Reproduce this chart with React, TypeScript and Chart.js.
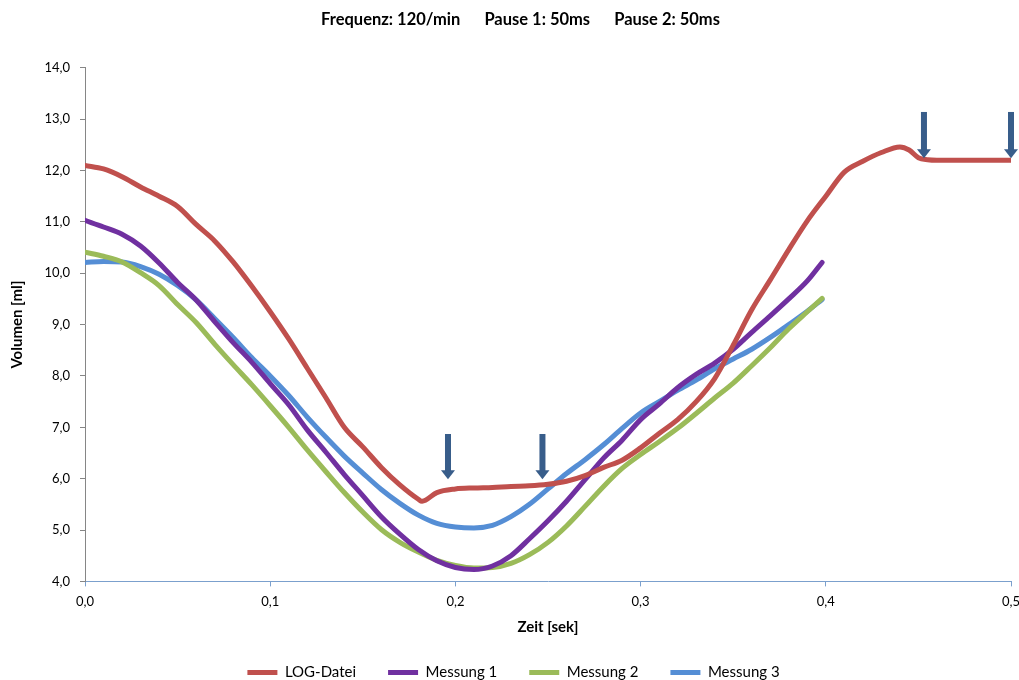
import React, { useEffect, useRef } from "react";
import { Chart, registerables } from "chart.js";

Chart.register(...registerables);

const TITLE = "Frequenz: 120/min      Pause 1: 50ms      Pause 2: 50ms";
const X_TITLE = "Zeit [sek]";
const Y_TITLE = "Volumen [ml]";
const SERIES_NAMES = ["LOG-Datei", "Messung 1", "Messung 2", "Messung 3"];
const SERIES_COLORS = ["#C0504D", "#7030A0", "#9BBB59", "#558ED5"];

const logT = [0, 0.01, 0.02, 0.03, 0.04, 0.05, 0.06, 0.07, 0.08, 0.09, 0.1, 0.11, 0.12, 0.13, 0.14, 0.15, 0.16, 0.17, 0.18, 0.182, 0.19, 0.2, 0.21, 0.22, 0.23, 0.24, 0.25, 0.26, 0.27, 0.28, 0.29, 0.3, 0.31, 0.32, 0.33, 0.34, 0.35, 0.36, 0.37, 0.38, 0.39, 0.4, 0.41, 0.42, 0.43, 0.44, 0.445, 0.45, 0.455, 0.46, 0.5];
const logV = [12.1, 12.03, 11.88, 11.68, 11.5, 11.3, 10.95, 10.63, 10.22, 9.75, 9.25, 8.72, 8.15, 7.58, 7.0, 6.62, 6.22, 5.88, 5.6, 5.56, 5.73, 5.8, 5.82, 5.83, 5.85, 5.86, 5.89, 5.95, 6.06, 6.22, 6.36, 6.6, 6.88, 7.15, 7.5, 7.95, 8.6, 9.29, 9.87, 10.46, 11.02, 11.5, 11.97, 12.18, 12.35, 12.46, 12.4, 12.25, 12.21, 12.2, 12.2];

const measT = [0, 0.01, 0.02, 0.03, 0.04, 0.05, 0.06, 0.07, 0.08, 0.09, 0.1, 0.11, 0.12, 0.13, 0.14, 0.15, 0.16, 0.17, 0.18, 0.19, 0.2, 0.21, 0.22, 0.23, 0.24, 0.25, 0.26, 0.27, 0.28, 0.29, 0.3, 0.31, 0.32, 0.33, 0.34, 0.35, 0.36, 0.37, 0.38, 0.39, 0.398];
const m1V = [11.03, 10.9, 10.76, 10.53, 10.2, 9.82, 9.48, 9.06, 8.65, 8.27, 7.85, 7.44, 6.95, 6.52, 6.08, 5.67, 5.26, 4.92, 4.62, 4.4, 4.27, 4.23, 4.3, 4.5, 4.83, 5.18, 5.56, 5.98, 6.4, 6.75, 7.15, 7.45, 7.77, 8.03, 8.25, 8.52, 8.85, 9.17, 9.5, 9.85, 10.21];
const m2V = [10.41, 10.33, 10.22, 10.01, 9.76, 9.39, 9.04, 8.62, 8.22, 7.83, 7.42, 7.0, 6.56, 6.14, 5.73, 5.35, 5.01, 4.76, 4.57, 4.41, 4.31, 4.26, 4.27, 4.35, 4.52, 4.76, 5.08, 5.46, 5.85, 6.2, 6.47, 6.72, 6.98, 7.27, 7.57, 7.86, 8.2, 8.55, 8.92, 9.25, 9.51];
const m3V = [10.21, 10.23, 10.22, 10.13, 9.98, 9.76, 9.48, 9.12, 8.75, 8.36, 8.0, 7.62, 7.2, 6.81, 6.44, 6.11, 5.79, 5.52, 5.29, 5.13, 5.06, 5.04, 5.09, 5.26, 5.5, 5.8, 6.1, 6.37, 6.66, 6.98, 7.28, 7.5, 7.72, 7.92, 8.14, 8.33, 8.52, 8.75, 9.0, 9.26, 9.49];

// Arrow markers (x position, start value, tip value)
const arrowX = [0.196, 0.247, 0.453, 0.5];
const arrowFrom = [6.87, 6.87, 13.14, 13.14];
const arrowTo = [5.99, 5.99, 12.24, 12.24];
const ARROW_COLOR = "#385D8A";

const FONT = "Lato, 'Open Sans', sans-serif";

const fmt = (v: number) => v.toFixed(1).replace(".", ",");

const arrowPlugin = {
  id: "arrows",
  afterDatasetsDraw(chart: any) {
    const { ctx, scales } = chart;
    const xs = scales.x;
    const ys = scales.y;
    ctx.save();
    ctx.fillStyle = ARROW_COLOR;
    for (let i = 0; i < arrowX.length; i++) {
      const px = xs.getPixelForValue(arrowX[i]);
      const top = ys.getPixelForValue(arrowFrom[i]);
      const tip = ys.getPixelForValue(arrowTo[i]);
      const headH = 9;
      const shaftW = 6;
      const headW = 14;
      ctx.fillRect(px - shaftW / 2, top, shaftW, tip - top - headH + 1);
      ctx.beginPath();
      ctx.moveTo(px - headW / 2, tip - headH);
      ctx.lineTo(px + headW / 2, tip - headH);
      ctx.lineTo(px, tip);
      ctx.closePath();
      ctx.fill();
    }
    ctx.restore();
  },
};

const shiftPlugin = {
  id: "boxShift",
  afterLayout(chart: any) {
    const lg = chart.legend;
    if (lg) {
      lg.left += 8;
      lg.right += 8;
    }
    const tt = chart.titleBlock;
    if (tt) {
      tt.left += 15;
      tt.right += 15;
    }
  },
};

export default function App() {
  const ref = useRef<HTMLCanvasElement | null>(null);

  useEffect(() => {
    document.body.style.margin = "0";
    const canvas = ref.current;
    if (!canvas) return;
    const seriesT = [logT, measT, measT, measT];
    const seriesV = [logV, m1V, m2V, m3V];
    const datasets = SERIES_NAMES.map((name, k) => ({
      label: name,
      data: seriesT[k].map((x, i) => ({ x, y: seriesV[k][i] })),
      borderColor: SERIES_COLORS[k],
      backgroundColor: SERIES_COLORS[k],
      borderWidth: 5,
      borderCapStyle: "round" as const,
      borderJoinStyle: "round" as const,
      pointRadius: 0,
      pointHoverRadius: 0,
      cubicInterpolationMode: "monotone" as const,
      fill: false,
    }));

    const chart = new Chart(canvas, {
      type: "line",
      data: { datasets },
      plugins: [arrowPlugin, shiftPlugin],
      options: {
        responsive: false,
        animation: false,
        layout: { autoPadding: false, padding: { left: 0, right: 8, top: 0, bottom: -10 } },
        plugins: {
          title: {
            display: true,
            text: TITLE,
            color: "#000",
            font: { family: FONT, size: 16.5, weight: "bold" },
            padding: { top: 10, bottom: 38 },
          },
          legend: {
            display: true,
            position: "bottom",
            labels: {
              color: "#000",
              font: { family: FONT, size: 15 },
              usePointStyle: true,
              pointStyle: "line",
              pointStyleWidth: 30,
              boxHeight: 5,
              padding: 32,
            },
          },
          tooltip: { enabled: false },
        },
        scales: {
          x: {
            type: "linear",
            min: 0,
            max: 0.5,
            ticks: {
              stepSize: 0.1,
              color: "#000",
              font: { family: FONT, size: 13 },
              padding: 8,
              maxRotation: 0,
              callback: (v: any) => fmt(Number(v)),
            },
            grid: { display: true, drawOnChartArea: false, drawTicks: true, tickLength: 5, color: "#7BA0CD" },
            border: { display: true, color: "#7BA0CD", width: 1 },
            title: {
              display: true,
              text: X_TITLE,
              color: "#000",
              font: { family: FONT, size: 15, weight: "bold" },
              padding: { top: 0, bottom: -3 },
            },
            afterFit: (scale: any) => {
              scale.paddingRight = 0;
              scale.paddingLeft = 0;
            },
          },
          y: {
            type: "linear",
            min: 4,
            max: 14,
            ticks: {
              stepSize: 1,
              color: "#000",
              font: { family: FONT, size: 13 },
              padding: 10,
              callback: (v: any) => fmt(Number(v)),
            },
            grid: { display: true, drawOnChartArea: false, drawTicks: true, tickLength: 5, color: "#868686" },
            border: { display: true, color: "#868686", width: 1 },
            title: {
              display: true,
              text: Y_TITLE,
              color: "#000",
              font: { family: FONT, size: 15, weight: "bold" },
              padding: { top: 8, bottom: 0 },
            },
            afterFit: (scale: any) => {
              scale.width = 85;
            },
          },
        },
      },
    } as any);
    return () => chart.destroy();
  }, []);

  return (
    <div style={{ position: "fixed", left: 0, top: 0, width: 1019, height: 680, background: "#fff" }}>
      <canvas ref={ref} width={1019} height={680} style={{ display: "block" }} />
    </div>
  );
}
